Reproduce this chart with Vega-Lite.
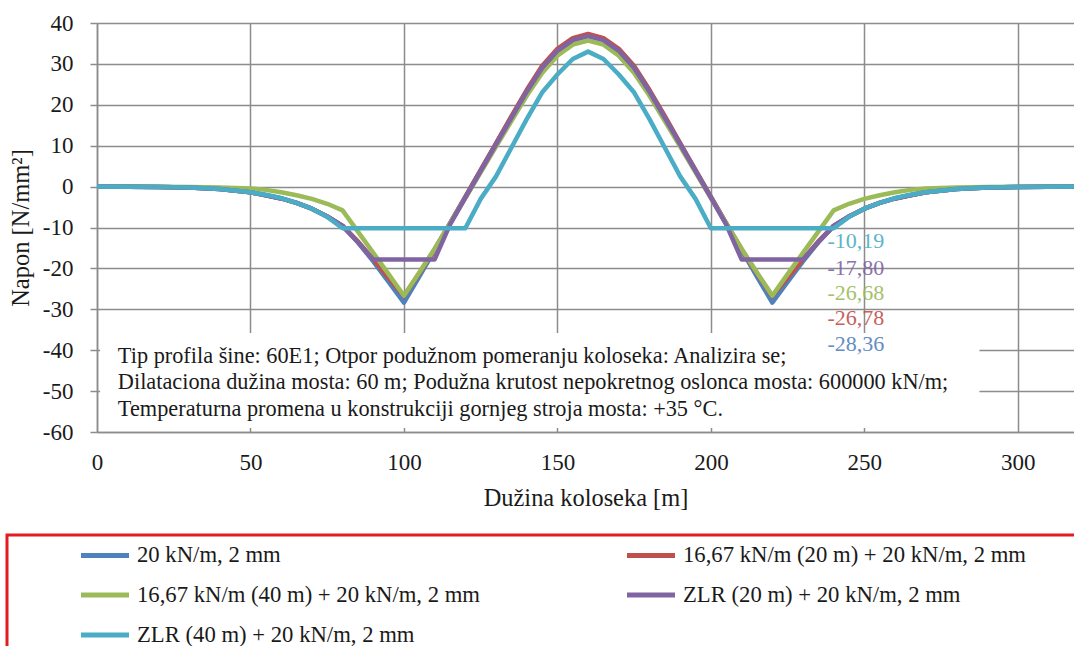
{
  "$schema": "https://vega.github.io/schema/vega-lite/v6.json",
  "width": 977,
  "height": 409,
  "autosize": {"type": "none"},
  "padding": {"left": 97, "top": 23, "right": 0, "bottom": 214},
  "background": "white",
  "config": {"view": {"stroke": null}, "font": "Liberation Serif"},
  "resolve": {"scale": {"color": "independent"}, "legend": {"color": "independent"}},
  "layer": [
    {
      "data": {"values": [{}]},
      "mark": {"type": "rect", "fill": "white"},
      "encoding": {
        "x": {"datum": 1, "type": "quantitative"},
        "x2": {"datum": 287.5},
        "y": {"datum": -35.8, "type": "quantitative"},
        "y2": {"datum": -59.0}
      }
    },
    {
      "data": {"values": [
        {"x": 0, "s1": 0, "s2": 0, "s3": 0, "s4": 0, "s5": 0},
        {"x": 10, "s1": -0.02, "s2": -0.02, "s3": -0.01, "s4": -0.02, "s5": -0.02},
        {"x": 20, "s1": -0.08, "s2": -0.08, "s3": -0.04, "s4": -0.08, "s5": -0.08},
        {"x": 30, "s1": -0.22, "s2": -0.22, "s3": -0.1, "s4": -0.22, "s5": -0.22},
        {"x": 40, "s1": -0.6, "s2": -0.6, "s3": -0.2, "s4": -0.6, "s5": -0.6},
        {"x": 50, "s1": -1.4, "s2": -1.4, "s3": -0.45, "s4": -1.4, "s5": -1.4},
        {"x": 55, "s1": -2.1, "s2": -2.1, "s3": -0.8, "s4": -2.1, "s5": -2.0},
        {"x": 60, "s1": -2.9, "s2": -2.9, "s3": -1.4, "s4": -2.9, "s5": -2.8},
        {"x": 65, "s1": -4.0, "s2": -4.0, "s3": -2.1, "s4": -4.0, "s5": -4.0},
        {"x": 70, "s1": -5.4, "s2": -5.4, "s3": -3.0, "s4": -5.4, "s5": -5.4},
        {"x": 75, "s1": -7.3, "s2": -7.3, "s3": -4.2, "s4": -7.3, "s5": -7.4},
        {"x": 80, "s1": -9.6, "s2": -9.6, "s3": -5.8, "s4": -9.6, "s5": -10.19},
        {"x": 85, "s1": -13.6, "s2": -13.4, "s3": -11.0, "s4": -13.6, "s5": -10.19},
        {"x": 90, "s1": -18.3, "s2": -17.8, "s3": -16.2, "s4": -17.8, "s5": -10.19},
        {"x": 95, "s1": -23.3, "s2": -22.3, "s3": -21.4, "s4": -17.8, "s5": -10.19},
        {"x": 100, "s1": -28.36, "s2": -26.78, "s3": -26.68, "s4": -17.8, "s5": -10.19},
        {"x": 105, "s1": -22.0, "s2": -21.2, "s3": -21.0, "s4": -17.8, "s5": -10.19},
        {"x": 110, "s1": -15.5, "s2": -15.3, "s3": -15.2, "s4": -17.8, "s5": -10.19},
        {"x": 115, "s1": -9.0, "s2": -9.0, "s3": -9.0, "s4": -9.3, "s5": -10.19},
        {"x": 120, "s1": -2.5, "s2": -2.5, "s3": -2.8, "s4": -2.7, "s5": -10.19},
        {"x": 125, "s1": 4.0, "s2": 4.0, "s3": 3.5, "s4": 3.8, "s5": -3.0},
        {"x": 130, "s1": 10.5, "s2": 10.6, "s3": 9.8, "s4": 10.3, "s5": 2.5},
        {"x": 135, "s1": 17.0, "s2": 17.2, "s3": 16.0, "s4": 16.8, "s5": 9.5},
        {"x": 140, "s1": 23.4, "s2": 23.6, "s3": 22.2, "s4": 23.2, "s5": 16.5},
        {"x": 145, "s1": 29.2, "s2": 29.5, "s3": 27.8, "s4": 29.0, "s5": 23.0},
        {"x": 150, "s1": 33.4, "s2": 33.7, "s3": 32.0, "s4": 33.2, "s5": 27.4},
        {"x": 155, "s1": 36.0, "s2": 36.3, "s3": 34.7, "s4": 35.8, "s5": 31.2},
        {"x": 160, "s1": 37.0, "s2": 37.3, "s3": 35.7, "s4": 36.8, "s5": 33.0},
        {"x": 165, "s1": 36.0, "s2": 36.3, "s3": 34.7, "s4": 35.8, "s5": 31.2},
        {"x": 170, "s1": 33.4, "s2": 33.7, "s3": 32.0, "s4": 33.2, "s5": 27.4},
        {"x": 175, "s1": 29.2, "s2": 29.5, "s3": 27.8, "s4": 29.0, "s5": 23.0},
        {"x": 180, "s1": 23.4, "s2": 23.6, "s3": 22.2, "s4": 23.2, "s5": 16.5},
        {"x": 185, "s1": 17.0, "s2": 17.2, "s3": 16.0, "s4": 16.8, "s5": 9.5},
        {"x": 190, "s1": 10.5, "s2": 10.6, "s3": 9.8, "s4": 10.3, "s5": 2.5},
        {"x": 195, "s1": 4.0, "s2": 4.0, "s3": 3.5, "s4": 3.8, "s5": -3.0},
        {"x": 200, "s1": -2.5, "s2": -2.5, "s3": -2.8, "s4": -2.7, "s5": -10.19},
        {"x": 205, "s1": -9.0, "s2": -9.0, "s3": -9.0, "s4": -9.3, "s5": -10.19},
        {"x": 210, "s1": -15.5, "s2": -15.3, "s3": -15.2, "s4": -17.8, "s5": -10.19},
        {"x": 215, "s1": -22.0, "s2": -21.2, "s3": -21.0, "s4": -17.8, "s5": -10.19},
        {"x": 220, "s1": -28.36, "s2": -26.78, "s3": -26.68, "s4": -17.8, "s5": -10.19},
        {"x": 225, "s1": -23.3, "s2": -22.3, "s3": -21.4, "s4": -17.8, "s5": -10.19},
        {"x": 230, "s1": -18.3, "s2": -17.8, "s3": -16.2, "s4": -17.8, "s5": -10.19},
        {"x": 235, "s1": -13.6, "s2": -13.4, "s3": -11.0, "s4": -13.6, "s5": -10.19},
        {"x": 240, "s1": -9.6, "s2": -9.6, "s3": -5.8, "s4": -9.6, "s5": -10.19},
        {"x": 245, "s1": -7.3, "s2": -7.3, "s3": -4.2, "s4": -7.3, "s5": -7.4},
        {"x": 250, "s1": -5.4, "s2": -5.4, "s3": -3.0, "s4": -5.4, "s5": -5.4},
        {"x": 255, "s1": -4.0, "s2": -4.0, "s3": -2.1, "s4": -4.0, "s5": -4.0},
        {"x": 260, "s1": -2.9, "s2": -2.9, "s3": -1.4, "s4": -2.9, "s5": -2.8},
        {"x": 265, "s1": -2.1, "s2": -2.1, "s3": -0.8, "s4": -2.1, "s5": -2.0},
        {"x": 270, "s1": -1.4, "s2": -1.4, "s3": -0.45, "s4": -1.4, "s5": -1.4},
        {"x": 280, "s1": -0.6, "s2": -0.6, "s3": -0.2, "s4": -0.6, "s5": -0.6},
        {"x": 290, "s1": -0.22, "s2": -0.22, "s3": -0.1, "s4": -0.22, "s5": -0.22},
        {"x": 300, "s1": -0.08, "s2": -0.08, "s3": -0.04, "s4": -0.08, "s5": -0.08},
        {"x": 310, "s1": -0.02, "s2": -0.02, "s3": -0.01, "s4": -0.02, "s5": -0.02},
        {"x": 320, "s1": 0, "s2": 0, "s3": 0, "s4": 0, "s5": 0}
      ]},
      "transform": [{"fold": ["s1", "s2", "s3", "s4", "s5"], "as": ["serie", "y"]}],
      "mark": {"type": "line", "strokeWidth": 4.5, "strokeJoin": "round", "clip": true},
      "encoding": {
        "x": {
          "field": "x", "type": "quantitative",
          "scale": {"domain": [0, 318.3], "nice": false, "zero": false},
          "axis": {
            "values": [0, 50, 100, 150, 200, 250, 300],
            "title": "Dužina koloseka [m]",
            "grid": true, "gridColor": "#8c8c8c", "gridWidth": 1.5, "gridOpacity": 1,
            "domainColor": "#8c8c8c", "domainWidth": 1.5,
            "ticks": false, "labelFlush": false,
            "labelFont": "Liberation Serif", "labelFontSize": 23, "labelColor": "#1a1a1a", "labelPadding": 19,
            "titleFont": "Liberation Serif", "titleFontSize": 24.4, "titleFontWeight": "normal", "titleColor": "#1a1a1a", "titlePadding": 12
          }
        },
        "y": {
          "field": "y", "type": "quantitative",
          "scale": {"domain": [-60, 40], "nice": false},
          "axis": {
            "values": [-60, -50, -40, -30, -20, -10, 0, 10, 20, 30, 40],
            "labelExpr": "datum.value < 0 ? '-' + abs(datum.value) : '' + datum.value",
            "title": "Napon [N/mm²]",
            "grid": true, "gridColor": "#8c8c8c", "gridWidth": 1.5, "gridOpacity": 1,
            "domainColor": "#8c8c8c", "domainWidth": 1.5,
            "ticks": true, "tickSize": 7, "tickColor": "#8c8c8c", "tickWidth": 1.5,
            "labelFont": "Liberation Serif", "labelFontSize": 23, "labelColor": "#1a1a1a", "labelPadding": 17,
            "titleFont": "Liberation Serif", "titleFontSize": 24.5, "titleFontWeight": "normal", "titleColor": "#1a1a1a", "titlePadding": 9
          }
        },
        "color": {
          "field": "serie", "type": "nominal",
          "scale": {"domain": ["s1", "s2", "s3", "s4", "s5"], "range": ["#4F81BD", "#C0504D", "#9BBB59", "#8064A2", "#4BACC6"]},
          "legend": {
            "orient": "none", "legendX": -90, "legendY": 512, "columns": 2, "direction": "horizontal",
            "title": " ", "titleOrient": "left", "titleFont": "Liberation Serif", "titleFontSize": 23, "titlePadding": 69,
            "symbolType": "M-1.6,0H1.6", "symbolSize": 900, "symbolStrokeWidth": 5, "symbolOffset": 9,
            "labelOffset": 14.5, "labelFont": "Liberation Serif", "labelFontSize": 22.7, "labelColor": "#1a1a1a", "labelLimit": 900,
            "rowPadding": 10, "columnPadding": 136, "padding": 2.5,
            "strokeColor": "#e31b23", "fillColor": "white",
            "encode": {"legend": {"update": {"strokeWidth": {"value": 3}}}},
            "labelExpr": "datum.label == 's1' ? '20 kN/m, 2 mm' : datum.label == 's2' ? '16,67 kN/m (20 m) + 20 kN/m, 2 mm\u00a0\u00a0\u00a0\u00a0\u00a0\u00a0\u00a0\u00a0\u00a0\u00a0\u00a0\u00a0\u00a0\u00a0\u00a0\u00a0\u200b' : datum.label == 's3' ? '16,67 kN/m (40 m) + 20 kN/m, 2 mm' : datum.label == 's4' ? 'ZLR (20 m) + 20 kN/m, 2 mm' : 'ZLR (40 m) + 20 kN/m, 2 mm'"
          }
        }
      }
    },
    {
      "data": {"values": [
        {"serie": "s5", "label": "-10,19", "ly": -13.4},
        {"serie": "s4", "label": "-17,80", "ly": -19.9},
        {"serie": "s3", "label": "-26,68", "ly": -26.1},
        {"serie": "s2", "label": "-26,78", "ly": -32.2},
        {"serie": "s1", "label": "-28,36", "ly": -38.6}
      ]},
      "mark": {"type": "text", "align": "left", "baseline": "middle", "font": "Liberation Serif", "fontSize": 22, "opacity": 0.9},
      "encoding": {
        "x": {"datum": 238, "type": "quantitative"},
        "y": {"field": "ly", "type": "quantitative"},
        "text": {"field": "label"},
        "color": {
          "field": "serie", "type": "nominal",
          "scale": {"domain": ["s1", "s2", "s3", "s4", "s5"], "range": ["#4F81BD", "#C0504D", "#9BBB59", "#8064A2", "#4BACC6"]},
          "legend": null
        }
      }
    },
    {
      "data": {"values": [{}]},
      "mark": {
        "type": "text", "align": "left", "baseline": "middle", "font": "Liberation Serif", "fontSize": 22.3, "lineHeight": 26.3, "color": "#1a1a1a",
        "text": [
          "Tip profila šine: 60E1; Otpor podužnom pomeranju koloseka: Analizira se;",
          "Dilataciona dužina mosta: 60 m; Podužna krutost nepokretnog oslonca mosta: 600000 kN/m;",
          "Temperaturna promena u konstrukciji gornjeg stroja mosta: +35 °C."
        ]
      },
      "encoding": {
        "x": {"datum": 6.8, "type": "quantitative"},
        "y": {"datum": -41.4, "type": "quantitative"}
      }
    }
  ]
}
